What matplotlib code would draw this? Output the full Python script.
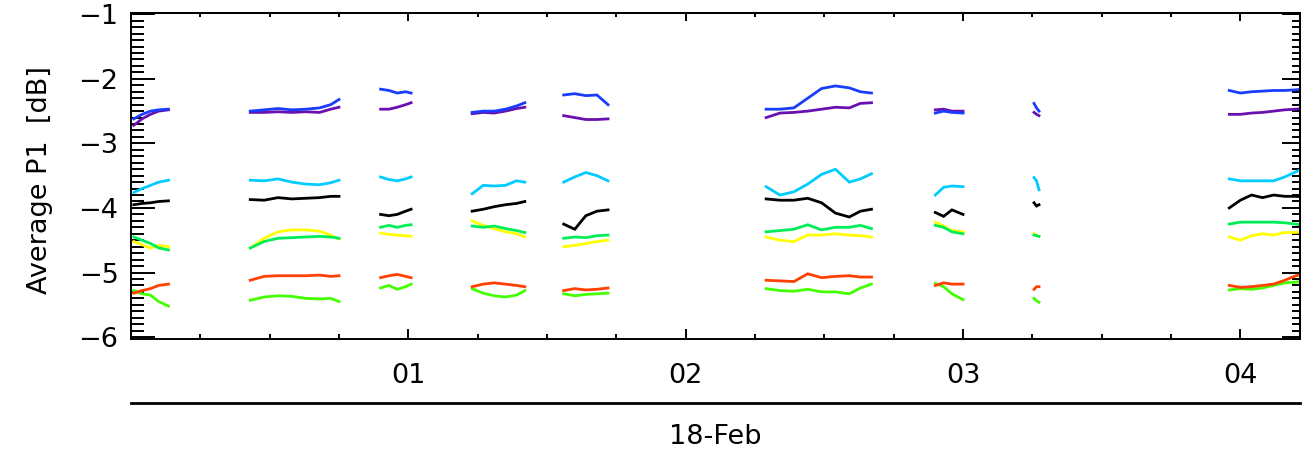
import numpy as np
import matplotlib
matplotlib.use("Agg")
import matplotlib.pyplot as plt
from matplotlib.ticker import MultipleLocator, FixedLocator

plt.rcParams['font.family'] = ['DejaVu Sans']

# ---- time stamps (hours of 18-Feb) for each data segment ----
seg_times = [
    [0.01, 0.04, 0.07, 0.10, 0.135],
    [0.43, 0.48, 0.53, 0.58, 0.63, 0.68, 0.72, 0.75],
    [0.90, 0.93, 0.96, 0.99, 1.01],
    [1.23, 1.27, 1.31, 1.35, 1.39, 1.42],
    [1.56, 1.60, 1.64, 1.68, 1.72],
    [2.29, 2.34, 2.39, 2.44, 2.49, 2.54, 2.59, 2.63, 2.67],
    [2.90, 2.93, 2.96, 3.00],
    [3.256, 3.265, 3.274],
    [3.96, 4.00, 4.04, 4.08, 4.12, 4.16, 4.20, 4.23],
]

# ---- series values (dB), one list per segment ----
blue = [
    [-2.62, -2.55, -2.50, -2.48, -2.47],
    [-2.50, -2.48, -2.46, -2.48, -2.47, -2.45, -2.40, -2.32],
    [-2.16, -2.18, -2.22, -2.20, -2.22],
    [-2.52, -2.50, -2.50, -2.47, -2.42, -2.37],
    [-2.25, -2.23, -2.26, -2.25, -2.40],
    [-2.47, -2.47, -2.45, -2.30, -2.15, -2.11, -2.14, -2.20, -2.22],
    [-2.53, -2.50, -2.52, -2.53],
    [-2.38, -2.45, -2.50],
    [-2.18, -2.22, -2.20, -2.19, -2.18, -2.18, -2.17, -2.16],
]
purple = [
    [-2.72, -2.62, -2.55, -2.50, -2.48],
    [-2.52, -2.52, -2.51, -2.52, -2.51, -2.52, -2.47, -2.44],
    [-2.47, -2.47, -2.44, -2.40, -2.37],
    [-2.54, -2.52, -2.53, -2.50, -2.46, -2.44],
    [-2.57, -2.60, -2.63, -2.63, -2.62],
    [-2.60, -2.53, -2.52, -2.50, -2.47, -2.44, -2.45, -2.38, -2.37],
    [-2.48, -2.47, -2.50, -2.50],
    [-2.52, -2.55, -2.57],
    [-2.55, -2.55, -2.53, -2.52, -2.50, -2.48, -2.47, -2.46],
]
cyan = [
    [-3.76, -3.70, -3.65, -3.60, -3.57],
    [-3.57, -3.58, -3.55, -3.60, -3.63, -3.64, -3.61, -3.57],
    [-3.52, -3.56, -3.58, -3.55, -3.52],
    [-3.78, -3.65, -3.66, -3.65, -3.58, -3.60],
    [-3.60, -3.52, -3.45, -3.50, -3.58],
    [-3.67, -3.80, -3.75, -3.63, -3.48, -3.40, -3.60, -3.55, -3.47],
    [-3.80, -3.68, -3.66, -3.67],
    [-3.53, -3.58, -3.72],
    [-3.55, -3.58, -3.58, -3.58, -3.58, -3.52, -3.44, -3.38],
]
black = [
    [-3.95, -3.93, -3.92, -3.90, -3.89],
    [-3.87, -3.88, -3.84, -3.86, -3.85, -3.84, -3.82, -3.82],
    [-4.10, -4.12, -4.10, -4.05, -4.02],
    [-4.05, -4.02, -3.98, -3.95, -3.93, -3.90],
    [-4.25, -4.33, -4.12, -4.05, -4.03],
    [-3.86, -3.88, -3.88, -3.85, -3.92, -4.08, -4.14, -4.05, -4.02],
    [-4.07, -4.13, -4.03, -4.10],
    [-3.92, -3.97, -3.95],
    [-4.00, -3.88, -3.80, -3.84, -3.80, -3.82, -3.82, -3.83],
]
green = [
    [-4.45, -4.50, -4.55, -4.62, -4.65],
    [-4.62, -4.52, -4.47, -4.46, -4.45, -4.44, -4.45, -4.47],
    [-4.30, -4.27, -4.30, -4.27, -4.26],
    [-4.28, -4.30, -4.28, -4.32, -4.35, -4.38],
    [-4.47, -4.45, -4.46, -4.43, -4.42],
    [-4.37, -4.35, -4.33, -4.26, -4.34, -4.30, -4.30, -4.27, -4.32],
    [-4.27, -4.30, -4.37, -4.40],
    [-4.42, -4.43, -4.44],
    [-4.25, -4.22, -4.22, -4.22, -4.22, -4.23, -4.25, -4.27],
]
yellow = [
    [-4.52, -4.57, -4.62, -4.58, -4.60],
    [-4.62, -4.47, -4.37, -4.34, -4.34, -4.36, -4.42, -4.48],
    [-4.39, -4.41, -4.42, -4.43, -4.44],
    [-4.20, -4.27, -4.32, -4.37, -4.40, -4.45],
    [-4.60, -4.58, -4.55, -4.52, -4.50],
    [-4.45, -4.50, -4.52, -4.42, -4.42, -4.40, -4.42, -4.43, -4.45],
    [-4.22, -4.28, -4.35, -4.37],
    [-4.40, -4.42, -4.44],
    [-4.45, -4.50, -4.43, -4.40, -4.42, -4.38, -4.38, -4.37],
]
red = [
    [-5.32, -5.28, -5.25, -5.20, -5.18],
    [-5.12, -5.06, -5.05, -5.05, -5.05, -5.04, -5.06, -5.05],
    [-5.08, -5.05, -5.03, -5.06, -5.08],
    [-5.22, -5.18, -5.16, -5.18, -5.20, -5.22],
    [-5.28, -5.25, -5.27, -5.26, -5.24],
    [-5.12, -5.13, -5.14, -5.02, -5.08, -5.06, -5.05, -5.07, -5.07],
    [-5.20, -5.16, -5.18, -5.18],
    [-5.26, -5.22, -5.22],
    [-5.20, -5.23, -5.22, -5.20, -5.18, -5.12, -5.05, -5.02],
]
lime = [
    [-5.28, -5.33, -5.35, -5.45, -5.52],
    [-5.43, -5.38, -5.36, -5.37, -5.40, -5.41, -5.40, -5.45],
    [-5.24, -5.20, -5.26, -5.22, -5.18],
    [-5.25, -5.32, -5.36, -5.38, -5.35, -5.28],
    [-5.33, -5.36, -5.34, -5.33, -5.32],
    [-5.25, -5.28, -5.29, -5.26, -5.30, -5.30, -5.33, -5.24, -5.18],
    [-5.17, -5.22, -5.33, -5.42],
    [-5.40, -5.44, -5.46],
    [-5.27, -5.25, -5.26, -5.24, -5.20, -5.16, -5.15, -5.13],
]

hour_ticks = [1, 2, 3, 4]
hour_labels = ['01', '02', '03', '04']
y_ticks = [-6, -5, -4, -3, -2, -1]
date_label = '18-Feb'
y_label = 'Average P1  [dB]'

series = [
    (lime, '#44ff00'),
    (red, '#ff4000'),
    (yellow, '#ffff00'),
    (green, '#00ee55'),
    (black, '#000000'),
    (cyan, '#00ccff'),
    (purple, '#6a10b0'),
    (blue, '#1a3cff'),
]

W, H = 1303, 462
fig = plt.figure(figsize=(W / 100, H / 100), dpi=100)
left, right, bottom, top = 131, 1300, 339, 13
ax = fig.add_axes([left / W, 1 - bottom / H, (right - left) / W, (bottom - top) / H])

for vals, col in series:
    for t, v in zip(seg_times, vals):
        ax.plot(t, v, color=col, lw=2.0, solid_joinstyle='miter')

ax.set_xlim(0.0, 4.215)
ax.set_ylim(-6.03, -0.98)

for s in ax.spines.values():
    s.set_linewidth(1.4)

fs = 19.5
ax.xaxis.set_major_locator(FixedLocator(hour_ticks))
ax.set_xticklabels(hour_labels)
ax.xaxis.set_minor_locator(MultipleLocator(0.25))
ax.yaxis.set_major_locator(FixedLocator(y_ticks))
ax.set_yticklabels([f'\u2212{abs(v)}' for v in y_ticks])
ax.yaxis.set_minor_locator(MultipleLocator(0.1))

ax.tick_params(axis='x', which='major', direction='in', length=7, width=1.4,
               labelsize=fs, pad=17, top=False)
ax.tick_params(axis='x', which='minor', direction='in', length=3.5, width=1.4, top=False)
ax.tick_params(axis='y', which='major', direction='in', length=17, width=1.4,
               labelsize=fs, pad=9, right=False)
ax.tick_params(axis='y', which='minor', direction='in', length=9, width=1.4, right=False)

# top axis ticks
axt = ax.secondary_xaxis('top')
axt.xaxis.set_major_locator(FixedLocator(hour_ticks))
axt.xaxis.set_minor_locator(MultipleLocator(0.25))
axt.tick_params(axis='x', which='major', direction='in', length=6, width=1.4, labeltop=False)
axt.tick_params(axis='x', which='minor', direction='in', length=3, width=1.4)
axt.spines['top'].set_linewidth(1.4)

# right axis ticks
axr = ax.secondary_yaxis('right')
axr.yaxis.set_major_locator(FixedLocator(y_ticks))
axr.yaxis.set_minor_locator(MultipleLocator(0.1))
axr.tick_params(axis='y', which='major', direction='in', length=13, width=1.4, labelright=False)
axr.tick_params(axis='y', which='minor', direction='in', length=6, width=1.4)
axr.spines['right'].set_linewidth(1.4)

# date axis below
axd = ax.secondary_xaxis(-(403 - 339) / (339 - 13))
axd.set_xticks([])
axd.spines['bottom'].set_linewidth(2.0)
axd.set_xlabel(date_label, fontsize=fs, labelpad=15)

fig.text(40 / W, 1 - 180 / H, y_label, rotation=90, ha='center', va='center', fontsize=fs)

fig.savefig('out.png', dpi=100)
